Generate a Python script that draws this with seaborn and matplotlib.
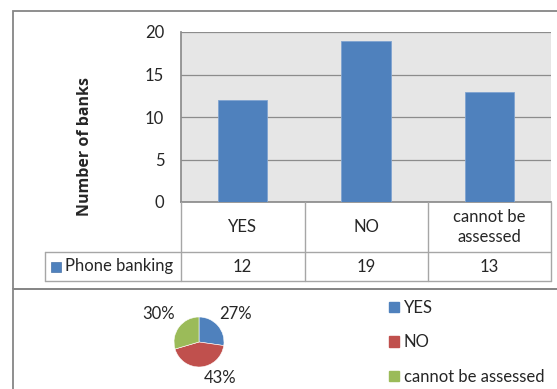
import numpy as np
import pandas as pd
import matplotlib.pyplot as plt
import seaborn as sns
from matplotlib.patches import Patch, Rectangle
from matplotlib.lines import Line2D
import matplotlib.transforms as mtransforms

# data
categories = ['YES', 'NO', 'cannot be assessed']
cat_labels = ['YES', 'NO', 'cannot be\nassessed']
phone_banking = [12, 19, 13]
series_name = 'Phone banking'

BLUE = '#4F81BD'
RED = '#C0504D'
GREEN = '#9BBB59'
pie_colors = [BLUE, RED, GREEN]
FS = 12

sns.set_theme(style='white')
plt.rcParams['font.family'] = ['Lato', 'DejaVu Sans']

W, H = 557, 389
fig = plt.figure(figsize=(W / 100, H / 100), dpi=100)


def box(x0, y0, x1, y1):
    """pixel box (top-left origin) -> figure fraction rect"""
    return [x0 / W, 1 - y1 / H, (x1 - x0) / W, (y1 - y0) / H]


def fl(x0, y0, x1, y1, color='#A6A6A6', lw=1.0):
    fig.add_artist(Line2D([x0 / W, x1 / W], [1 - y0 / H, 1 - y1 / H],
                          color=color, lw=lw, transform=fig.transFigure))


# outer frames
fig.add_artist(Rectangle((13 / W, 1 - 289 / H), (W + 5 - 13) / W, (289 - 11) / H,
                         fill=False, ec='#868686', lw=1.3, transform=fig.transFigure))
fig.add_artist(Rectangle((13 / W, 1 - (H + 5) / H), (W + 5 - 13) / W, (H + 5 - 289) / H,
                         fill=False, ec='#868686', lw=1.3, transform=fig.transFigure))

# bar chart
ax = fig.add_axes(box(181, 32, 551, 202))
df = pd.DataFrame({'category': categories, 'value': phone_banking})
sns.barplot(data=df, x='category', y='value', color=BLUE, width=0.4,
            edgecolor='#7FA3D0', linewidth=0.6, saturation=1, ax=ax, zorder=3)
ax.set_facecolor('#E6E6E6')
ax.set_xlim(-0.5, 2.5)
ax.set_ylim(0, 20)
ax.set_yticks([0, 5, 10, 15, 20])
ax.yaxis.grid(True, color='#8C8C8C', lw=0.9)
ax.set_axisbelow(True)
ax.set_xticks([])
ax.set_xlabel('')
ax.set_ylabel('Number of banks', fontsize=11.5, fontweight='bold',
              family='Open Sans', va='center')
ax.yaxis.set_label_coords((85 - 181) / 370, (202 - 146) / 170)
ax.tick_params(axis='y', length=0, pad=12, labelsize=FS)
for s in ['top', 'right']:
    ax.spines[s].set_visible(False)
ax.spines['left'].set_color('#8C8C8C')
ax.spines['bottom'].set_color('#8C8C8C')

# data table below the axis
fl(181, 202, 181, 281)
for x in [305, 428, 551]:
    fl(x, 202, x, 281)
fl(45, 252, 551, 252)
fl(45, 281, 551, 281)
fl(45, 252, 45, 281)

trans_row1 = mtransforms.blended_transform_factory(ax.transData, fig.transFigure)
for i, (lab, v) in enumerate(zip(cat_labels, phone_banking)):
    ax.text(i, 1 - 227 / H, lab, transform=trans_row1, ha='center', va='center',
            fontsize=FS, linespacing=1.3)
    ax.text(i, 1 - 266.5 / H, str(v), transform=trans_row1, ha='center', va='center',
            fontsize=FS)
fig.add_artist(Rectangle((51 / W, 1 - 272 / H), 10 / W, 10 / H, fc=BLUE,
                         ec='#4A74A8', lw=0.5, transform=fig.transFigure))
fig.text(65 / W, 1 - 266.5 / H, series_name, ha='left', va='center', fontsize=FS)

# pie chart
axp = fig.add_axes(box(174, 317, 224, 367))
wedges, _ = axp.pie(phone_banking, colors=pie_colors, startangle=90,
                    counterclock=False, radius=1.0,
                    wedgeprops=dict(edgecolor='white', linewidth=0.4))
axp.set_xlim(-1, 1)
axp.set_ylim(-1, 1)
axp.set_aspect('equal')
total = sum(phone_banking)
label_pos = [(1.45, 1.12), (0.85, -1.45), (-1.62, 1.12)]
for v, (lx, ly) in zip(phone_banking, label_pos):
    axp.text(lx, ly, f'{v / total:.0%}', ha='center', va='center',
             fontsize=FS, clip_on=False)

handles = [Patch(fc=c, ec=c) for c in pie_colors]
fig.legend(handles, categories, loc='upper left',
           bbox_to_anchor=(389 / W, 1 - 300 / H), frameon=False,
           fontsize=FS, handlelength=0.6, handleheight=0.6, handletextpad=0.3,
           labelspacing=1.1, borderpad=0, borderaxespad=0)

fig.savefig('out.png', dpi=100)
